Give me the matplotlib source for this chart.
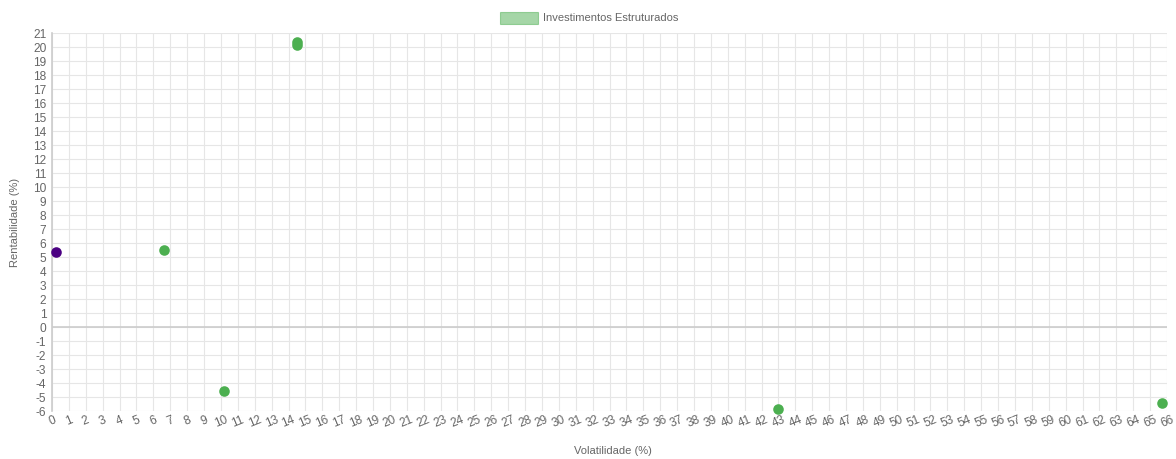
import matplotlib
matplotlib.use("Agg")
import matplotlib.pyplot as plt
from matplotlib.patches import Rectangle

plt.rcParams['font.family'] = ['Liberation Sans', 'DejaVu Sans']
plt.rcParams['axes.unicode_minus'] = False

# Data
estruturados_vol = [6.6, 10.2, 14.5, 14.5, 43.0, 65.7]
estruturados_ret = [5.5, -4.55, 20.38, 20.15, -5.85, -5.42]
benchmark_vol = [0.25]
benchmark_ret = [5.38]
x_ticks = list(range(0, 67))
y_ticks = list(range(-6, 22))
legend_label = "Investimentos Estruturados"
x_title = "Volatilidade (%)"
y_title = "Rentabilidade (%)"

green = "#4caf50"
purple = "#4b0082"
fs = 8.0

fig = plt.figure(figsize=(11.76, 4.59), dpi=100)
ax = fig.add_axes([52/1176, 1-411/459, (1167-52)/1176, (411-33)/459])

ax.scatter(estruturados_vol, estruturados_ret, s=58, color=green, zorder=3, linewidths=0, clip_on=False)
ax.scatter(benchmark_vol, benchmark_ret, s=58, color=purple, zorder=3, linewidths=0, clip_on=False)

ax.set_xlim(0, 66)
ax.set_ylim(-6, 21)
ax.set_xticks(x_ticks)
ax.set_yticks(y_ticks)
ax.set_xticklabels([str(v) for v in x_ticks], rotation=22, ha='center')
ax.set_yticklabels([str(v) for v in y_ticks])
ax.tick_params(axis='both', length=0, labelsize=8.6, colors='#666666', pad=4)
ax.tick_params(axis='x', pad=2)
ax.grid(True, color='#e6e6e6', linewidth=0.8, zorder=0)
ax.axhline(0, color='#cccccc', linewidth=1.2, zorder=1)
for s in ['top', 'right', 'bottom']:
    ax.spines[s].set_visible(False)
ax.spines['left'].set_color('#cccccc')
ax.spines['left'].set_linewidth(1.2)
ax.set_axisbelow(True)

fig.text(613/1176, 1-451/459, x_title, ha='center', va='center', fontsize=fs, color='#666666')
fig.text(15/1176, 1-222/459, y_title, ha='center', va='center', rotation=90, fontsize=fs, color='#666666')

# Legend (Chart.js style)
fig.patches.append(Rectangle((500/1176, 1-24/459), 38/1176, 12/459, transform=fig.transFigure,
                             facecolor=(76/255, 175/255, 80/255, 0.5),
                             edgecolor=(76/255, 175/255, 80/255, 0.5), linewidth=0.8))
fig.text(543/1176, 1-18/459, legend_label, ha='left', va='center', fontsize=fs, color='#666666')

fig.savefig("out.png", dpi=100)
